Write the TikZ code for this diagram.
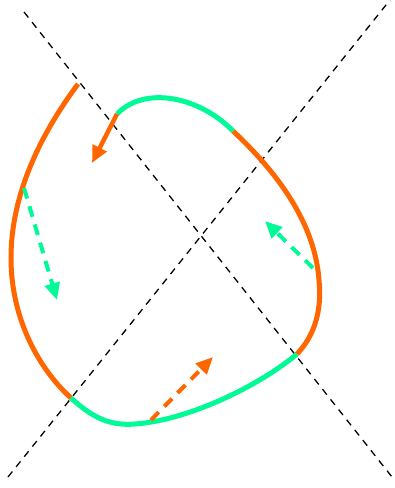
\documentclass[tikz,border=0pt]{standalone}
\usetikzlibrary{arrows.meta}
\definecolor{myorange}{RGB}{255,102,0}
\definecolor{mygreen}{RGB}{0,250,150}
\tikzset{
  axisline/.style={black,line width=1.3pt,dash pattern=on 7pt off 6pt},
  curveseg/.style={line width=5pt},
  solidarrow/.style={line width=4.5pt,-{Triangle[length=17pt,width=15pt]}},
  dasharrow/.style={line width=4pt,dash pattern=on 11pt off 8pt,-{Triangle[length=17pt,width=15pt]}}
}
\begin{document}
\begin{tikzpicture}[x=1pt,y=-1pt]
\useasboundingbox (0,0) rectangle (395,488);
% diagonal axes
\coordinate (a1) at (24,12);
\coordinate (a2) at (392,477);
\coordinate (b1) at (8,477);
\coordinate (b2) at (390,0);
\draw[axisline] (a1) -- (a2);
\draw[axisline] (b1) -- (b2);
% curve points
\coordinate (p0) at (78,84);
\coordinate (p1) at (11,258);
\coordinate (p2) at (71,398);
\coordinate (p3) at (135,424);
\coordinate (p4) at (297,354);
\coordinate (p5) at (319,280);
\coordinate (p6) at (233,131);
\coordinate (p7) at (117,114);
\draw[curveseg,myorange] (p0) .. controls (40,135) and (11,195) .. (p1)
  .. controls (11,320) and (40,370) .. (p2);
\draw[curveseg,mygreen] (p2) .. controls (93,418) and (110,426) .. (p3)
  .. controls (190,420) and (260,385) .. (p4);
\draw[curveseg,myorange] (p4) .. controls (315,335) and (322,310) .. (p5)
  .. controls (315,225) and (280,175) .. (p6);
\draw[curveseg,mygreen] (p6) .. controls (200,97) and (145,85) .. (p7);
% arrows
\coordinate (t1) at (92,163);
\draw[solidarrow,myorange] (p7) -- (t1);
\coordinate (g1s) at (24,188);
\coordinate (g1e) at (57,300);
\draw[dasharrow,mygreen] (g1s) -- (g1e);
\coordinate (g2s) at (313,268);
\coordinate (g2e) at (265,221);
\draw[dasharrow,mygreen] (g2s) -- (g2e);
\coordinate (o2s) at (151,420);
\coordinate (o2e) at (213,357);
\draw[dasharrow,myorange] (o2s) -- (o2e);
\end{tikzpicture}
\end{document}
